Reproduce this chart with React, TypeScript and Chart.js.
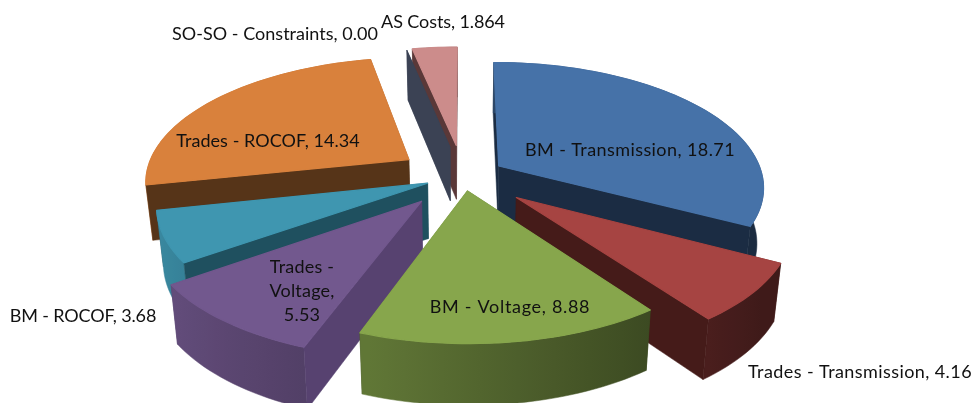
import React, { useEffect, useRef } from "react";
import { Chart, registerables } from "chart.js";

Chart.register(...registerables);

// ---- data ----
const categories = [
  "BM - Transmission",
  "Trades - Transmission",
  "BM - Voltage",
  "Trades - Voltage",
  "BM - ROCOF",
  "Trades - ROCOF",
  "SO-SO - Constraints",
  "AS Costs",
];
const values = [18.71, 4.16, 8.88, 5.53, 3.68, 14.34, 0.0, 1.864];
const valueTexts = ["18.71", "4.16", "8.88", "5.53", "3.68", "14.34", "0.00", "1.864"];

// ---- styling ----
const explosionPct = [16, 26, 12, 25, 14.5, 25, 25, 26];
const topColors = ["#4672A8", "#A64442", "#87A64C", "#72588E", "#3F96B0", "#D9813C", "#3B4254", "#CC8C8B"];
const cutColors = ["#1B2C43", "#451B19", "#374719", "#574270", "#1F505F", "#563418", "#3B4254", "#5A3838"];
const drawOrder = [0, 7, 6, 5, 4, 3, 1, 2];
// label anchors (centre x, centre y), letter spacing and line breaks
const labelCentres: [number, number][] = [
  [630, 150], [860, 372], [510, 307], [302, 291], [83, 316], [268, 141], [275, 34], [443, 22],
];
const labelSpacing = [0.42, 0.42, 0.7, 0.2, -0.15, 0.06, 0.02, -0.1];
const multiLine: Record<number, string[]> = { 3: ["Trades -", "Voltage,", "5.53"] };

// projection of the pie plane to the page
const CX = 463, CY = 176, AX = 264, BY = 123, K = 0.16;
const project = (u: number, v: number): [number, number] => {
  const w = 1 - K * v;
  return [CX + (AX * u) / w, CY + (BY * v) / w];
};
const lower = ([x, y]: [number, number]): [number, number] => [
  CX + (x - CX) * 0.978,
  y + 55 + 0.04 * (y - 176),
];

const shade = (hex: string, f: number) => {
  const n = parseInt(hex.slice(1), 16);
  const c = [(n >> 16) & 255, (n >> 8) & 255, n & 255].map((ch) => Math.round(ch * f));
  return `rgb(${c[0]},${c[1]},${c[2]})`;
};

const fillPoly = (ctx: CanvasRenderingContext2D, pts: [number, number][], color: any, seal = 0.5) => {
  ctx.beginPath();
  pts.forEach((p, i) => (i ? ctx.lineTo(p[0], p[1]) : ctx.moveTo(p[0], p[1])));
  ctx.closePath();
  ctx.fillStyle = color;
  ctx.fill();
  if (seal > 0) {
    ctx.strokeStyle = color;
    ctx.lineWidth = seal;
    ctx.lineJoin = "round";
    ctx.stroke();
  }
};

const pie3d = {
  id: "pie3d",
  beforeDatasetsDraw(chart: any) {
    const ctx: CanvasRenderingContext2D = chart.ctx;
    const arcs = chart.getDatasetMeta(0).data;
    ctx.save();
    for (const i of drawOrder) {
      const arc = arcs[i];
      const { startAngle: a0, endAngle: a1 } = arc;
      const mid = (a0 + a1) / 2;
      const e = arc.options.offset / 100;
      const ou = e * Math.cos(mid);
      const ov = e * Math.sin(mid);
      const apex = project(ou, ov);
      const at = (a: number) => project(ou + Math.cos(a), ov + Math.sin(a));
      const top = topColors[i];

      const steps = Math.max(1, Math.ceil((a1 - a0) / 0.03));
      const rim: [number, number][] = [];
      for (let s = 0; s <= steps; s++) rim.push(at(a0 + ((a1 - a0) * s) / steps));

      const cutFace = (p: [number, number]) =>
        fillPoly(ctx, [apex, p, lower(p), lower(apex)], cutColors[i]);
      const frontStart = -Math.cos(a0) > 0;
      const frontEnd = Math.cos(a1) > 0;

      // back-facing cut faces, then the outer wall, then front-facing cut faces
      if (!frontStart) cutFace(rim[0]);
      if (!frontEnd) cutFace(rim[steps]);

      if (a1 > a0) {
        const xs = rim.map((p) => p[0]);
        const minX = Math.min(...xs);
        const maxX = Math.max(...xs);
        const grad = ctx.createLinearGradient(minX, 0, maxX, 0);
        const stops: [number, number][] = [];
        for (let s = 0; s <= steps; s += Math.max(1, Math.floor(steps / 8))) {
          const a = a0 + ((a1 - a0) * s) / steps;
          const f = Math.max(0.38, 0.62 - 0.3 * Math.cos(a));
          stops.push([(rim[s][0] - minX) / Math.max(1, maxX - minX), f]);
        }
        stops.sort((p, q) => p[0] - q[0]);
        stops.forEach(([o, f]) => grad.addColorStop(Math.min(1, Math.max(0, o)), shade(top, f)));
        fillPoly(ctx, [...rim, ...rim.map(lower).reverse()], grad);
      }

      if (frontStart) cutFace(rim[0]);
      if (frontEnd) cutFace(rim[steps]);

      if (a1 > a0) fillPoly(ctx, [apex, ...rim], top, 1.2);
    }

    // data labels
    ctx.fillStyle = "#111111";
    ctx.font = "18px Lato";
    ctx.textAlign = "center";
    ctx.textBaseline = "middle";
    categories.forEach((name, i) => {
      const [x, y] = labelCentres[i];
      const lines = multiLine[i] ?? [`${name}, ${valueTexts[i]}`];
      (ctx as any).letterSpacing = `${labelSpacing[i]}px`;
      lines.forEach((t, l) => ctx.fillText(t, x, y + (l - (lines.length - 1) / 2) * 24));
    });
    ctx.restore();
    return false;
  },
};

export default function App() {
  const ref = useRef<HTMLCanvasElement>(null);
  useEffect(() => {
    const chart = new Chart(ref.current as HTMLCanvasElement, {
      type: "pie",
      data: {
        labels: categories,
        datasets: [{ data: values, backgroundColor: topColors, offset: explosionPct, borderWidth: 0 }],
      },
      options: {
        responsive: false,
        animation: false,
        events: [],
        plugins: { legend: { display: false }, tooltip: { enabled: false } },
      },
      plugins: [pie3d],
    } as any);
    return () => chart.destroy();
  }, []);
  return (
    <div style={{ position: "absolute", left: 0, top: 0, width: 973, height: 403, background: "#fff", overflow: "hidden" }}>
      <canvas ref={ref} width={973} height={403} style={{ display: "block", filter: "blur(0.4px)" }} />
    </div>
  );
}
